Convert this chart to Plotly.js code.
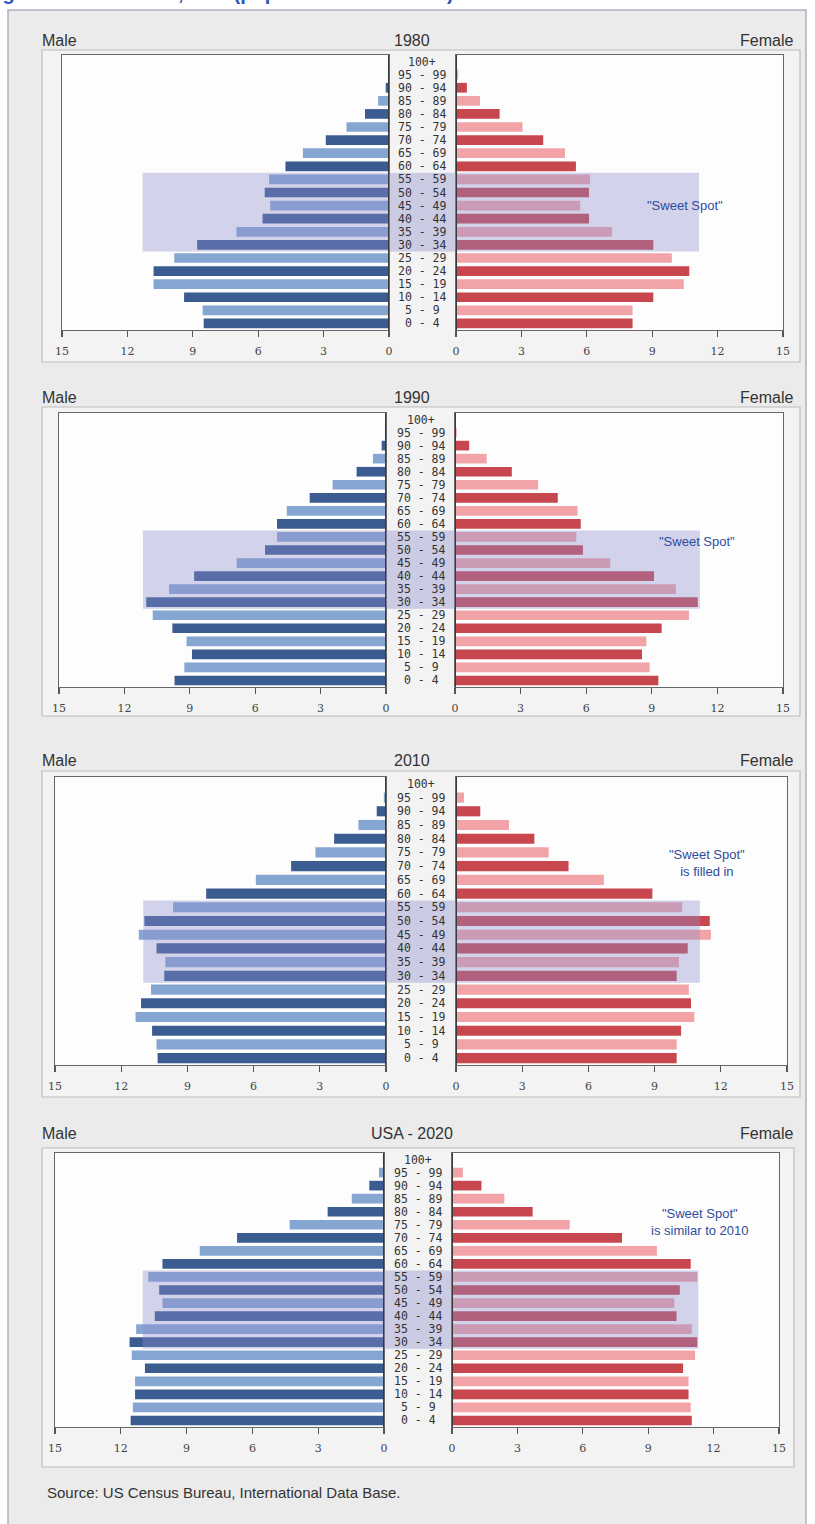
<!DOCTYPE html>
<html><head><meta charset="utf-8">
<script src="https://cdn.plot.ly/plotly-3.0.1.min.js"></script>
<style>html,body{margin:0;padding:0;background:#fff}#chart{width:815px;height:1524px}</style>
</head><body><div id="chart"></div>
<script>
// ---------- data ----------
const ages = ['0 - 4','5 - 9','10 - 14','15 - 19','20 - 24','25 - 29','30 - 34','35 - 39','40 - 44','45 - 49','50 - 54','55 - 59','60 - 64','65 - 69','70 - 74','75 - 79','80 - 84','85 - 89','90 - 94','95 - 99','100+'];
const panelTitles = ['1980','1990','2010','USA - 2020'];
const tickValues = [0,3,6,9,12,15];

const male1980   = [8.5,8.55,9.4,10.8,10.8,9.85,8.8,7.0,5.8,5.45,5.7,5.5,4.75,3.95,2.9,1.95,1.1,0.5,0.15,0.05,0];
const female1980 = [8.1,8.1,9.05,10.45,10.7,9.9,9.05,7.15,6.1,5.7,6.1,6.15,5.5,5.0,4.0,3.05,2.0,1.1,0.5,0.1,0];
const male1990   = [9.7,9.25,8.9,9.15,9.8,10.7,11.0,9.95,8.8,6.85,5.55,5.0,5.0,4.55,3.5,2.45,1.35,0.6,0.2,0.05,0];
const female1990 = [9.3,8.9,8.55,8.75,9.45,10.7,11.1,10.1,9.1,7.1,5.85,5.55,5.75,5.6,4.7,3.8,2.6,1.45,0.65,0.08,0];
const male2010   = [10.35,10.4,10.6,11.35,11.1,10.65,10.05,10.0,10.4,11.2,10.95,9.65,8.15,5.9,4.3,3.2,2.35,1.25,0.42,0.1,0];
const female2010 = [10.0,10.0,10.2,10.8,10.65,10.55,10.0,10.1,10.5,11.55,11.5,10.25,8.9,6.7,5.1,4.2,3.55,2.4,1.1,0.36,0];
const male2020   = [11.55,11.45,11.35,11.35,10.9,11.5,11.6,11.3,10.45,10.1,10.25,10.75,10.1,8.4,6.7,4.3,2.57,1.47,0.67,0.23,0.05];
const female2020 = [11.0,10.95,10.85,10.85,10.6,11.15,11.25,11.0,10.3,10.2,10.45,11.25,10.95,9.4,7.8,5.4,3.7,2.4,1.35,0.5,0.03];

const maleData   = [male1980, male1990, male2010, male2020];
const femaleData = [female1980, female1990, female2010, female2020];

// "sweet spot" extents (millions) on male / female side, and its age rows
const sweetMale   = [11.3, 11.15, 11.0, 11.0];
const sweetFemale = [11.15, 11.2, 11.05, 11.3];
const sweetRows   = ['30 - 34', '55 - 59'];
const sweetNotes  = ['"Sweet Spot"', '"Sweet Spot"', '"Sweet Spot"<br>is filled in', '"Sweet Spot"<br>is similar to 2010'];
const sourceText  = 'Source: US Census Bureau, International Data Base.';
const topTitle    = 'Age Structure Chart, U.S. (population in millions)';

// ---------- layout geometry (pixels) ----------
const W = 815, H = 1524;
const geo = [
  {top:55,  bot:330,  L:[62,389], R:[456,783], box:[42,50,800,362],   head:40,   mid:422, note:[685,205]},
  {top:413, bot:687,  L:[59,386], R:[455,783], box:[42,407,800,716],  head:397,  mid:421, note:[697,541]},
  {top:777, bot:1065, L:[55,386], R:[456,787], box:[42,771,800,1097], head:760,  mid:421, note:[707,863]},
  {top:1153,bot:1427, L:[55,384], R:[452,779], box:[42,1148,794,1467],head:1133, mid:418, note:[700,1222]}
];
const px = v => v / W;
const py = v => 1 - v / H;

const maleDark = '#3b5c91', maleLight = '#86a6d2';
const femDark = '#c8464e', femLight = '#f2a3a7';
const axisFont = {family:'DejaVu Serif', size:11, color:'#444'};

const traces = [];
const layout = {
  width: W, height: H, margin:{l:0,r:0,t:0,b:0},
  paper_bgcolor:'#ffffff', plot_bgcolor:'rgba(0,0,0,0)',
  showlegend:false, barmode:'overlay', hovermode:false,
  shapes:[], annotations:[]
};

// outer frame
layout.shapes.push({type:'rect', xref:'paper', yref:'paper', x0:px(8), x1:px(806), y0:-0.02, y1:py(10),
  fillcolor:'#ebebeb', line:{color:'#aeb3c2', width:1.5}, layer:'below'});

geo.forEach((g, p) => {
  const nL = 2*p + 1, nR = 2*p + 2;
  const sx = n => (n === 1 ? '' : n);
  const yd = [py(g.bot), py(g.top)];

  // inner box + white plot areas
  layout.shapes.push({type:'rect', xref:'paper', yref:'paper', x0:px(g.box[0]), x1:px(g.box[2]), y0:py(g.box[3]), y1:py(g.box[1]),
    fillcolor:'#f3f3f3', line:{color:'#bdbdbd', width:1.2}, layer:'below'});
  [g.L, g.R].forEach(r => layout.shapes.push({type:'rect', xref:'paper', yref:'paper', x0:px(r[0]), x1:px(r[1]), y0:yd[0], y1:yd[1],
    fillcolor:'#fdfdfd', line:{width:0}, layer:'below'}));

  const xBase = {showline:true, mirror:true, linecolor:'#666', linewidth:1.2, showgrid:false, zeroline:false,
    tickmode:'array', tickvals:tickValues, ticktext:tickValues.map(String), ticks:'outside', ticklen:6, tickcolor:'#555',
    tickwidth:1.2, tickfont:axisFont, ticklabelstandoff:5, fixedrange:true};
  layout['xaxis'+sx(nL)] = Object.assign({}, xBase, {domain:[px(g.L[0]), px(g.L[1])], range:[15,0], anchor:'y'+sx(nL)});
  layout['xaxis'+sx(nR)] = Object.assign({}, xBase, {domain:[px(g.R[0]), px(g.R[1])], range:[0,15], anchor:'y'+sx(nR)});
  const yBase = {type:'category', categoryorder:'array', categoryarray:ages, range:[-0.5,20.5], showticklabels:false,
    ticks:'', showline:true, mirror:true, linecolor:'#666', linewidth:1.2, showgrid:false, zeroline:false, domain:yd, fixedrange:true};
  layout['yaxis'+sx(nL)] = Object.assign({}, yBase, {anchor:'x'+sx(nL)});
  layout['yaxis'+sx(nR)] = Object.assign({}, yBase, {anchor:'x'+sx(nR)});

  traces.push({type:'bar', orientation:'h', x:maleData[p], y:ages, xaxis:'x'+sx(nL), yaxis:'y'+sx(nL), width:0.74,
    marker:{color:ages.map((a,i)=> i%2===0 ? maleDark : maleLight), line:{width:0}}, hoverinfo:'skip'});
  traces.push({type:'bar', orientation:'h', x:femaleData[p], y:ages, xaxis:'x'+sx(nR), yaxis:'y'+sx(nR), width:0.74,
    marker:{color:ages.map((a,i)=> i%2===0 ? femDark : femLight), line:{width:0}}, hoverinfo:'skip'});

  // sweet spot band (three abutting pieces)
  const r0 = ages.indexOf(sweetRows[0]) - 0.5, r1 = ages.indexOf(sweetRows[1]) + 0.5;
  const band = 'rgba(140,140,205,0.38)';
  layout.shapes.push({type:'rect', xref:'x'+sx(nL), yref:'y'+sx(nL), x0:0, x1:sweetMale[p], y0:r0, y1:r1, fillcolor:band, line:{width:0}, layer:'above'});
  layout.shapes.push({type:'rect', xref:'paper', yref:'y'+sx(nR), x0:px(g.L[1]), x1:px(g.R[0]), y0:r0, y1:r1, fillcolor:band, line:{width:0}, layer:'above'});
  layout.shapes.push({type:'rect', xref:'x'+sx(nR), yref:'y'+sx(nR), x0:0, x1:sweetFemale[p], y0:r0, y1:r1, fillcolor:band, line:{width:0}, layer:'above'});

  // heavier zero lines
  layout.shapes.push({type:'line', xref:'x'+sx(nL), yref:'y'+sx(nL)+' domain', x0:0, x1:0, y0:0, y1:1, line:{color:'#3a3a3a', width:2}, layer:'above'});
  layout.shapes.push({type:'line', xref:'x'+sx(nR), yref:'y'+sx(nR)+' domain', x0:0, x1:0, y0:0, y1:1, line:{color:'#3a3a3a', width:2}, layer:'above'});

  // age labels
  ages.forEach(a => layout.annotations.push({xref:'paper', yref:'y'+sx(nR), x:px(g.mid), y:a, text:a, showarrow:false,
    xanchor:'center', yanchor:'middle', font:{family:'DejaVu Sans Mono', size:11.5, color:'#333'}}));

  // headers
  const hf = {family:'Liberation Sans', size:16, color:'#333'};
  layout.annotations.push({xref:'paper', yref:'paper', x:px(40), y:py(g.head), text:'Male', showarrow:false, xanchor:'left', yanchor:'middle', font:hf});
  layout.annotations.push({xref:'paper', yref:'paper', x:px(412), y:py(g.head), text:panelTitles[p], showarrow:false, xanchor:'center', yanchor:'middle', font:hf});
  layout.annotations.push({xref:'paper', yref:'paper', x:px(795), y:py(g.head), text:'Female', showarrow:false, xanchor:'right', yanchor:'middle', font:hf});

  // sweet spot note
  layout.annotations.push({xref:'paper', yref:'paper', x:px(g.note[0]), y:py(g.note[1]), text:sweetNotes[p], showarrow:false,
    xanchor:'center', yanchor:'middle', align:'center', font:{family:'Liberation Sans', size:13, color:'#2e4c9e'}});
});

layout.annotations.push({xref:'paper', yref:'paper', x:px(45), y:py(1492), text:sourceText, showarrow:false, xanchor:'left', yanchor:'middle',
  font:{family:'Liberation Sans', size:15, color:'#333'}});
layout.annotations.push({xref:'paper', yref:'paper', x:px(-14), y:py(6), text:'<b>'+topTitle+'</b>', showarrow:false, xanchor:'left', yanchor:'bottom',
  font:{family:'Liberation Sans', size:20, color:'#2a56b8'}});

Plotly.newPlot('chart', traces, layout, {displayModeBar:false, staticPlot:true});
</script>
</body></html>
